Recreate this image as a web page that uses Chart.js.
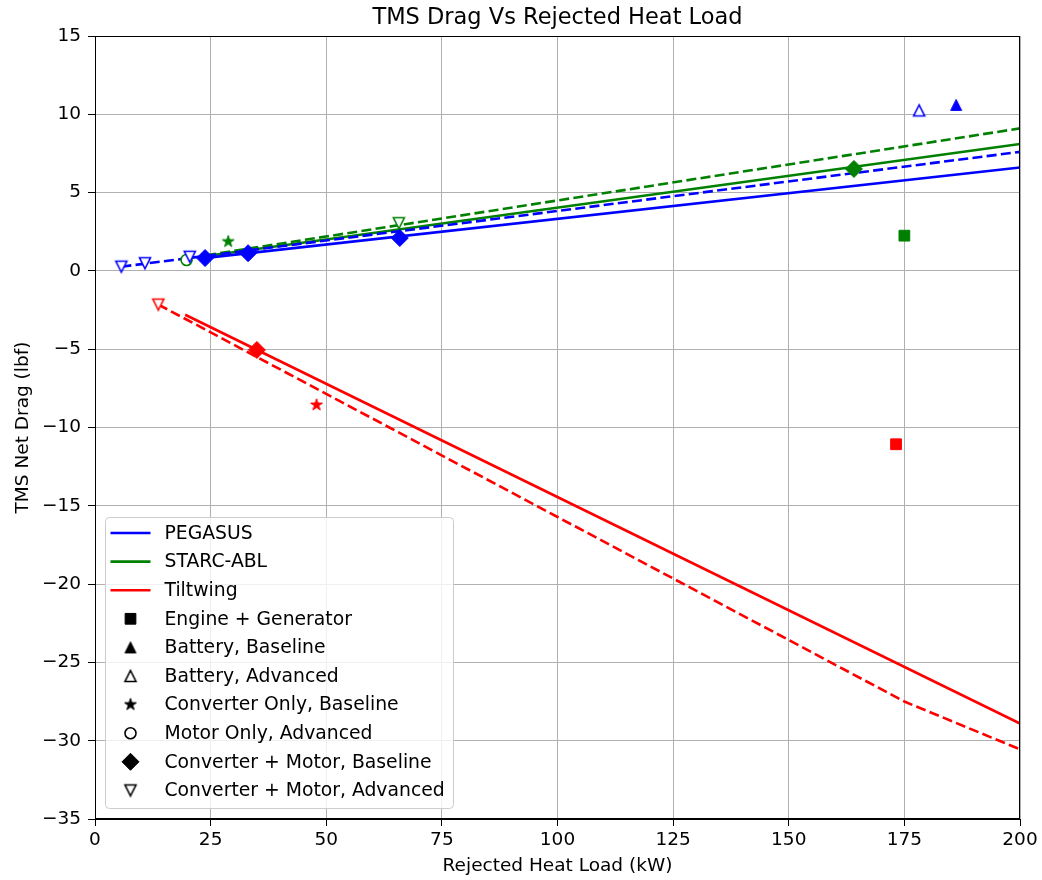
<!DOCTYPE html>
<html lang="en">
<head>
    <meta charset="UTF-8">
    <title>TMS Drag Vs Rejected Heat Load</title>
    <script src="https://cdn.jsdelivr.net/npm/chart.js"></script>
    <style>
        body { margin: 0; background: #fff; }
    </style>
</head>
<body>
    <canvas id="myChart" width="1042" height="880"></canvas>

    <script>
        // axis ticks
        const xTicks = [0, 25, 50, 75, 100, 125, 150, 175, 200];
        const yTicks = [-35, -30, -25, -20, -15, -10, -5, 0, 5, 10, 15];

        // fitted trend lines (kW, lbf)
        const pegasusBaseX = [24, 200];
        const pegasusBaseY = [0.83, 6.6];
        const pegasusAdvX = [5.7, 200];
        const pegasusAdvY = [0.27, 7.6];
        const starcBaseX = [24, 200];
        const starcBaseY = [0.95, 8.1];
        const starcAdvX = [24, 200];
        const starcAdvY = [1.0, 9.1];
        const tiltBaseX = [19.5, 200];
        const tiltBaseY = [-2.8, -28.9];
        const tiltAdvX = [13.7, 175, 200];
        const tiltAdvY = [-2.15, -27.5, -30.55];

        // PEGASUS points
        const pegBattBaseX = [186.2];
        const pegBattBaseY = [10.6];
        const pegBattAdvX = [178.2];
        const pegBattAdvY = [10.25];
        const pegCmBaseX = [23.8, 33.1, 65.9];
        const pegCmBaseY = [0.82, 1.13, 2.1];
        const pegCmAdvX = [5.7, 10.8, 20.5];
        const pegCmAdvY = [0.27, 0.49, 0.9];

        // STARC-ABL points
        const starcEngX = [175.0];
        const starcEngY = [2.25];
        const starcConvX = [28.8];
        const starcConvY = [1.87];
        const starcMotorX = [19.8];
        const starcMotorY = [0.7];
        const starcCmBaseX = [164.1];
        const starcCmBaseY = [6.51];
        const starcCmAdvX = [65.7];
        const starcCmAdvY = [3.05];

        // Tiltwing points
        const tiltEngX = [173.2];
        const tiltEngY = [-11.07];
        const tiltConvX = [47.9];
        const tiltConvY = [-8.56];
        const tiltCmBaseX = [35.0];
        const tiltCmBaseY = [-5.05];
        const tiltCmAdvX = [13.7];
        const tiltCmAdvY = [-2.15];

        const legendLabels = ['PEGASUS', 'STARC-ABL', 'Tiltwing', 'Engine + Generator', 'Battery, Baseline',
            'Battery, Advanced', 'Converter Only, Baseline', 'Motor Only, Advanced',
            'Converter + Motor, Baseline', 'Converter + Motor, Advanced'];

        const BLUE = '#0000ff', GREEN = '#008000', RED = '#ff0000';
        const FONT = 'DejaVu Sans';
        const LW = 2.6;

        const pts = (xs, ys) => xs.map((x, i) => ({ x: x, y: ys[i] }));

        // small canvases for matplotlib-like markers
        function makeMarker(kind, color, open) {
            const c = document.createElement('canvas');
            c.width = 20; c.height = 20;
            const g = c.getContext('2d');
            const m = 10, s = 11;
            g.beginPath();
            if (kind === 'up') {
                g.moveTo(m, m - s / 2); g.lineTo(m + s / 2, m + s / 2); g.lineTo(m - s / 2, m + s / 2);
            } else if (kind === 'down') {
                g.moveTo(m, m + s / 2); g.lineTo(m + s / 2, m - s / 2); g.lineTo(m - s / 2, m - s / 2);
            } else if (kind === 'star') {
                const R = 6.2, r = R * 0.381966;
                for (let i = 0; i < 10; i++) {
                    const a = -Math.PI / 2 + i * Math.PI / 5;
                    const rr = i % 2 ? r : R;
                    g.lineTo(m + rr * Math.cos(a), m + rr * Math.sin(a));
                }
            }
            g.closePath();
            g.fillStyle = open ? '#fff' : color;
            g.fill();
            g.strokeStyle = color;
            g.lineWidth = open ? 1.6 : 1;
            g.stroke();
            return c;
        }

        function lineSet(xs, ys, color, dashed) {
            return {
                data: pts(xs, ys), showLine: true, borderColor: color, borderWidth: LW,
                borderDash: dashed ? [10, 4.3] : [], pointRadius: 0, order: 2, tension: 0
            };
        }

        function markSet(xs, ys, color, shape) {
            const ds = { data: pts(xs, ys), showLine: false, order: 1, pointBorderColor: color, pointBackgroundColor: color, pointBorderWidth: 1 };
            if (shape === 'square') { ds.pointStyle = 'rect'; ds.pointRadius = 7.6; }
            else if (shape === 'diamond') { ds.pointStyle = 'rectRot'; ds.pointRadius = 8.5; }
            else if (shape === 'circle') { ds.pointStyle = 'circle'; ds.pointRadius = 5.5; ds.pointBackgroundColor = '#fff'; ds.pointBorderWidth = 1.6; }
            else if (shape === 'up') { ds.pointStyle = makeMarker('up', color, false); }
            else if (shape === 'upOpen') { ds.pointStyle = makeMarker('up', color, true); }
            else if (shape === 'downOpen') { ds.pointStyle = makeMarker('down', color, true); }
            else if (shape === 'star') { ds.pointStyle = makeMarker('star', color, false); }
            return ds;
        }

        const datasets = [
            lineSet(pegasusBaseX, pegasusBaseY, BLUE, false),
            lineSet(pegasusAdvX, pegasusAdvY, BLUE, true),
            lineSet(starcBaseX, starcBaseY, GREEN, false),
            lineSet(starcAdvX, starcAdvY, GREEN, true),
            lineSet(tiltBaseX, tiltBaseY, RED, false),
            lineSet(tiltAdvX, tiltAdvY, RED, true),
            markSet(pegBattBaseX, pegBattBaseY, BLUE, 'up'),
            markSet(pegBattAdvX, pegBattAdvY, BLUE, 'upOpen'),
            markSet(pegCmBaseX, pegCmBaseY, BLUE, 'diamond'),
            markSet(pegCmAdvX, pegCmAdvY, BLUE, 'downOpen'),
            markSet(starcEngX, starcEngY, GREEN, 'square'),
            markSet(starcConvX, starcConvY, GREEN, 'star'),
            markSet(starcMotorX, starcMotorY, GREEN, 'circle'),
            markSet(starcCmBaseX, starcCmBaseY, GREEN, 'diamond'),
            markSet(starcCmAdvX, starcCmAdvY, GREEN, 'downOpen'),
            markSet(tiltEngX, tiltEngY, RED, 'square'),
            markSet(tiltConvX, tiltConvY, RED, 'star'),
            markSet(tiltCmBaseX, tiltCmBaseY, RED, 'diamond'),
            markSet(tiltCmAdvX, tiltCmAdvY, RED, 'downOpen')
        ];

        // legend handles, drawn in black like matplotlib proxy artists
        const legendHandles = [
            { line: BLUE }, { line: GREEN }, { line: RED },
            { style: 'rect', radius: 7.6 },
            { style: makeMarker('up', '#000', false) },
            { style: makeMarker('up', '#000', true) },
            { style: makeMarker('star', '#000', false) },
            { style: 'circle', radius: 5.5, open: true },
            { style: 'rectRot', radius: 8.5 },
            { style: makeMarker('down', '#000', true) }
        ];

        const framePlugin = {
            id: 'frameAndLegend',
            afterDraw(chart) {
                const ctx = chart.ctx;
                const a = chart.chartArea;
                ctx.save();
                // full box around the axes
                const l = Math.round(a.left) + 0.5, t = Math.round(a.top) + 0.5;
                const r = Math.round(a.right) - 0.5, b = Math.round(a.bottom) - 0.5;
                ctx.strokeStyle = '#000';
                ctx.lineWidth = 1;
                ctx.strokeRect(l, t, r - l, b - t);

                // legend box, lower left
                const bx = Math.round(a.left) + 10.5, bw = 348, bh = 291;
                const by = Math.round(a.bottom) - 10.5 - bh;
                ctx.beginPath();
                ctx.roundRect(bx, by, bw, bh, 4);
                ctx.fillStyle = 'rgba(255,255,255,0.8)';
                ctx.fill();
                ctx.strokeStyle = '#cccccc';
                ctx.stroke();

                ctx.font = '18.8px "' + FONT + '"';
                ctx.textBaseline = 'middle';
                ctx.textAlign = 'left';
                legendLabels.forEach((label, i) => {
                    const y = by + 15.5 + i * 28.6;
                    const h = legendHandles[i];
                    if (h.line) {
                        ctx.beginPath();
                        ctx.moveTo(bx + 5, y); ctx.lineTo(bx + 45, y);
                        ctx.strokeStyle = h.line; ctx.lineWidth = LW; ctx.setLineDash([]);
                        ctx.stroke();
                    } else {
                        ctx.fillStyle = h.open ? '#fff' : '#000';
                        ctx.strokeStyle = '#000';
                        ctx.lineWidth = h.open ? 1.6 : 1;
                        Chart.helpers.drawPoint(ctx, { pointStyle: h.style, radius: h.radius || 6, rotation: 0, borderWidth: 1 }, bx + 25, y);
                    }
                    ctx.fillStyle = '#000';
                    ctx.fillText(label, bx + 59, y + 1);
                });
                ctx.restore();
            }
        };

        const tickFont = { family: FONT, size: 18.5 };
        const labelFont = { family: FONT, size: 18.5 };
        const minus = v => (v < 0 ? '\u2212' + Math.abs(v) : String(v));

        const ctx = document.getElementById('myChart').getContext('2d');
        const chart = new Chart(ctx, {
            type: 'scatter',
            data: { datasets: datasets },
            plugins: [framePlugin],
            options: {
                responsive: false,
                animation: false,
                layout: { padding: { left: 0, right: 22, top: 0, bottom: 0 } },
                plugins: {
                    legend: { display: false },
                    tooltip: { enabled: false },
                    title: {
                        display: true,
                        fullSize: false,
                        text: 'TMS Drag Vs Rejected Heat Load',
                        color: '#000',
                        font: { family: FONT, size: 22.5, weight: 'normal', lineHeight: 1.2 },
                        padding: { top: 5, bottom: 4 }
                    }
                },
                scales: {
                    x: {
                        type: 'linear',
                        min: xTicks[0],
                        max: xTicks[xTicks.length - 1],
                        afterBuildTicks: s => { s.ticks = xTicks.map(v => ({ value: v })); },
                        afterFit: s => { s.height = 61; },
                        ticks: { font: tickFont, color: '#000', padding: 3, maxRotation: 0, autoSkip: false, callback: minus },
                        grid: { color: '#b0b0b0', lineWidth: 1, tickColor: '#000', tickLength: 7 },
                        border: { color: '#000', width: 1 },
                        title: { display: true, text: 'Rejected Heat Load (kW)', color: '#000', font: labelFont, padding: { top: 0, bottom: 3 } }
                    },
                    y: {
                        type: 'linear',
                        min: yTicks[0],
                        max: yTicks[yTicks.length - 1],
                        afterBuildTicks: s => { s.ticks = yTicks.map(v => ({ value: v })); },
                        afterFit: s => { s.width = 95; },
                        ticks: { font: tickFont, color: '#000', padding: 7, autoSkip: false, callback: minus },
                        grid: { color: '#b0b0b0', lineWidth: 1, tickColor: '#000', tickLength: 7 },
                        border: { color: '#000', width: 1 },
                        title: { display: true, text: 'TMS Net Drag (lbf)', color: '#000', font: labelFont, padding: { top: 12, bottom: 0 } }
                    }
                }
            }
        });
    </script>
</body>
</html>
